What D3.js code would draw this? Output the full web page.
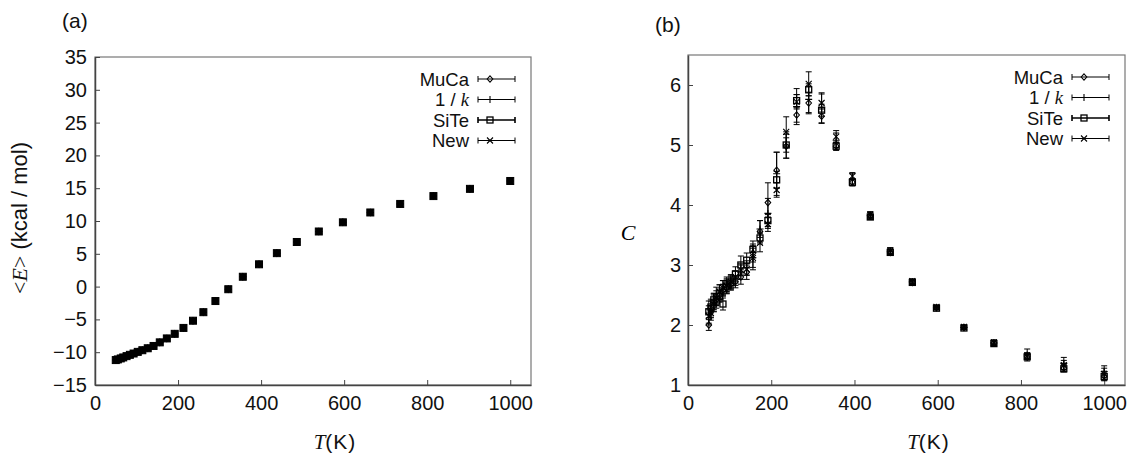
<!DOCTYPE html>
<html>
<head>
<meta charset="utf-8">
<script src="https://cdn.jsdelivr.net/npm/d3@7"></script>
<style>
  body { margin: 0; background: #fff; }
  svg { display: block; }
  .tick text { font-family: "Liberation Sans", Arial, sans-serif; font-size: 20px; fill: #111; }
  .sans { font-family: "Liberation Sans", Arial, sans-serif; fill: #111; }
  .serif { font-family: "Liberation Serif", "Times New Roman", serif; font-style: italic; }
</style>
</head>
<body>
<svg id="chart" width="1135" height="454"></svg>
<script>
// temperatures (K), shared by every series
var TEMPS = [50, 55, 62, 68, 76, 84, 93, 103, 114, 127, 141, 156, 173, 192, 213,
             236, 261, 290, 321, 356, 395, 438, 486, 539, 597, 663, 735, 815, 903, 1000];

// (a) <E> in kcal/mol -- the four methods sit on top of each other
var E_MUCA = [-11.2, -11.1, -10.95, -10.8, -10.6, -10.4, -10.2, -9.95, -9.7, -9.4, -9.05, -8.5, -7.9, -7.2, -6.3,
              -5.2, -3.9, -2.2, -0.4, 1.5, 3.4, 5.1, 6.8, 8.4, 9.8, 11.3, 12.6, 13.8, 14.9, 16.1];
var E_INVK = [-11.2, -11.1, -10.95, -10.8, -10.6, -10.4, -10.2, -9.95, -9.7, -9.4, -9.05, -8.5, -7.9, -7.2, -6.3,
              -5.2, -3.9, -2.2, -0.4, 1.5, 3.4, 5.1, 6.8, 8.4, 9.8, 11.3, 12.6, 13.8, 14.9, 16.1];
var E_SITE = [-11.2, -11.1, -10.95, -10.8, -10.6, -10.4, -10.2, -9.95, -9.7, -9.4, -9.05, -8.5, -7.9, -7.2, -6.3,
              -5.2, -3.9, -2.2, -0.4, 1.5, 3.4, 5.1, 6.8, 8.4, 9.8, 11.3, 12.6, 13.8, 14.9, 16.1];
var E_NEW  = [-11.2, -11.1, -10.95, -10.8, -10.6, -10.4, -10.2, -9.95, -9.7, -9.4, -9.05, -8.5, -7.9, -7.2, -6.3,
              -5.2, -3.9, -2.2, -0.4, 1.5, 3.4, 5.1, 6.8, 8.4, 9.8, 11.3, 12.6, 13.8, 14.9, 16.1];

// (b) specific heat C and its error bars
var C_MUCA     = [2.00, 2.22, 2.32, 2.42, 2.50, 2.58, 2.62, 2.68, 2.72, 2.80, 2.88, 3.20, 3.56, 4.04, 4.58,
                  4.98, 5.50, 5.70, 5.48, 4.98, 4.38, 3.82, 3.21, 2.71, 2.29, 1.96, 1.70, 1.47, 1.28, 1.15];
var C_MUCA_ERR = [0.09, 0.10, 0.10, 0.10, 0.10, 0.10, 0.10, 0.10, 0.10, 0.12, 0.12, 0.15, 0.18, 0.33, 0.30,
                  0.20, 0.12, 0.18, 0.12, 0.07, 0.06, 0.05, 0.04, 0.03, 0.03, 0.03, 0.04, 0.05, 0.06, 0.08];
var C_INVK     = [2.20, 2.28, 2.38, 2.48, 2.55, 2.62, 2.68, 2.72, 2.78, 2.88, 2.95, 3.12, 3.60, 3.86, 4.52,
                  5.00, 5.64, 5.76, 5.62, 5.08, 4.42, 3.82, 3.23, 2.72, 2.29, 1.96, 1.70, 1.50, 1.36, 1.22];
var C_INVK_ERR = [0.20, 0.15, 0.15, 0.15, 0.12, 0.12, 0.12, 0.12, 0.12, 0.12, 0.12, 0.20, 0.14, 0.25, 0.36,
                  0.22, 0.30, 0.22, 0.25, 0.12, 0.10, 0.05, 0.05, 0.04, 0.03, 0.03, 0.05, 0.10, 0.10, 0.10];
var C_SITE     = [2.22, 2.30, 2.42, 2.40, 2.48, 2.35, 2.65, 2.70, 2.85, 3.00, 3.08, 3.26, 3.45, 3.74, 4.42,
                  5.00, 5.74, 5.92, 5.58, 4.98, 4.38, 3.80, 3.21, 2.71, 2.28, 1.95, 1.69, 1.47, 1.27, 1.14];
var C_SITE_ERR = [0.10, 0.10, 0.10, 0.12, 0.10, 0.10, 0.10, 0.10, 0.12, 0.15, 0.12, 0.14, 0.10, 0.10, 0.14,
                  0.12, 0.10, 0.10, 0.10, 0.06, 0.05, 0.04, 0.04, 0.03, 0.03, 0.03, 0.03, 0.04, 0.05, 0.05];
var C_NEW      = [2.15, 2.20, 2.38, 2.45, 2.55, 2.62, 2.65, 2.72, 2.80, 2.92, 2.93, 3.12, 3.37, 3.68, 4.25,
                  5.22, 5.72, 6.02, 5.70, 5.14, 4.48, 3.84, 3.24, 2.73, 2.30, 1.97, 1.71, 1.49, 1.33, 1.18];
var C_NEW_ERR  = [0.12, 0.12, 0.12, 0.12, 0.12, 0.12, 0.12, 0.10, 0.10, 0.10, 0.10, 0.16, 0.15, 0.12, 0.12,
                  0.25, 0.12, 0.20, 0.15, 0.10, 0.06, 0.05, 0.05, 0.04, 0.03, 0.03, 0.04, 0.05, 0.08, 0.10];

var X_TICKS = [0, 200, 400, 600, 800, 1000];
var E_TICKS = [-15, -10, -5, 0, 5, 10, 15, 20, 25, 30, 35];
var C_TICKS = [1, 2, 3, 4, 5, 6];
var LEGEND = ['MuCa', '1/k', 'SiTe', 'New'];
var MARKERS = ['diamond', 'plus', 'square', 'cross'];

var svg = d3.select('#chart');

function marker(g, kind, cx, cy, filled){
    var m = g.append('g')
        .attr('transform', 'translate(' + cx + ',' + cy + ')')
        .attr('fill', 'none').attr('stroke', '#000').attr('stroke-width', 1.1);
    if (kind == 'diamond') {
        m.append('path').attr('d', 'M0,-3.2L2.8,0L0,3.2L-2.8,0Z');
    } else if (kind == 'plus') {
        m.append('path').attr('d', 'M-3.5,0H3.5M0,-3.5V3.5');
    } else if (kind == 'square') {
        var s = filled ? 7 : 6;
        m.append('rect').attr('x', -s / 2).attr('y', -s / 2).attr('width', s).attr('height', s)
            .attr('fill', filled ? '#000' : 'none').attr('stroke-width', filled ? 1 : 1.3);
    } else {
        m.append('path').attr('d', 'M-3,-3L3,3M-3,3L3,-3');
    }
}

function errorBar(g, x, y0, y1){
    g.append('path')
        .attr('d', 'M' + x + ',' + y0 + 'V' + y1 + 'M' + (x - 3) + ',' + y0 + 'H' + (x + 3) +
                   'M' + (x - 3) + ',' + y1 + 'H' + (x + 3))
        .attr('stroke', '#000').attr('stroke-width', 1).attr('fill', 'none');
}

function styleAxis(a){
    a.select('.domain').attr('stroke', '#444').attr('stroke-width', 1.5);
    a.selectAll('.tick line').attr('stroke', '#444');
    a.selectAll('.tick text').attr('font-size', null).attr('font-family', null);
}

function frame(x, y, yTicks, yPad){
    var xr = x.range(), yr = y.range();
    var g = svg.append('g');
    g.append('rect')
        .attr('x', xr[0]).attr('y', yr[1])
        .attr('width', xr[1] - xr[0]).attr('height', yr[0] - yr[1])
        .attr('fill', 'none').attr('stroke', '#777').attr('stroke-width', 1.2);

    g.append('g').attr('transform', 'translate(0,' + yr[0] + ')')
        .call(d3.axisBottom(x).tickValues(X_TICKS).tickFormat(d3.format('d'))
            .tickSizeInner(-5).tickSizeOuter(0).tickPadding(11))
        .call(styleAxis);

    g.append('g').attr('transform', 'translate(' + xr[0] + ',0)')
        .call(d3.axisLeft(y).tickValues(yTicks).tickFormat(d3.format('d'))
            .tickSizeInner(-5).tickSizeOuter(0).tickPadding(yPad))
        .call(styleAxis);

    // x title T(K)
    var t = svg.append('text').attr('class', 'sans')
        .attr('x', (xr[0] + xr[1]) / 2 + 22).attr('y', 449)
        .attr('text-anchor', 'middle').attr('font-size', 21);
    t.append('tspan').attr('class', 'serif').text('T');
    t.append('tspan').attr('letter-spacing', 1).text('(K)');
    return g;
}

function legend(x, y){
    var right = x.range()[1], top = y.range()[1];
    var g = svg.append('g');
    LEGEND.forEach(function(name, i){
        var cy = top + 22 + i * 20.5;
        var txt = g.append('text').attr('class', 'sans')
            .attr('x', right - 62).attr('y', cy + 6.5)
            .attr('text-anchor', 'end').attr('font-size', 18.5);
        if (name == '1/k') {
            txt.append('tspan').text('1 / ');
            txt.append('tspan').attr('class', 'serif').text('k');
        } else {
            txt.text(name);
        }
        var x0 = right - 53, x1 = right - 16;
        g.append('path')
            .attr('d', 'M' + x0 + ',' + cy + 'H' + x1 + 'M' + x0 + ',' + (cy - 3) + 'V' + (cy + 3) +
                       'M' + x1 + ',' + (cy - 3) + 'V' + (cy + 3))
            .attr('stroke', '#000').attr('stroke-width', i == 2 ? 1.6 : 1).attr('fill', 'none');
        marker(g, MARKERS[i], x0 + 12, cy, false);
    });
}

// ---- panel (a)
var xa = d3.scaleLinear().domain([0, 1050]).range([95, 531]);
var ya = d3.scaleLinear().domain([-15, 35]).range([385, 57]);
frame(xa, ya, E_TICKS, 8);
legend(xa, ya);

var ga = svg.append('g');
[E_MUCA, E_INVK, E_SITE, E_NEW].forEach(function(vals, k){
    TEMPS.forEach(function(t, i){
        marker(ga, MARKERS[k], xa(t), ya(vals[i]), true);
    });
});

svg.append('text').attr('class', 'sans').attr('x', 62).attr('y', 28).attr('font-size', 21).text('(a)');

var yl = svg.append('text').attr('class', 'sans').attr('font-size', 22)
    .attr('text-anchor', 'middle')
    .attr('transform', 'translate(27,' + 218 + ') rotate(-90)');
yl.append('tspan').attr('font-family', 'Liberation Serif').text('<');
yl.append('tspan').attr('class', 'serif').text('E');
yl.append('tspan').attr('font-family', 'Liberation Serif').text('>');
yl.append('tspan').text(' (kcal / mol)');

// ---- panel (b)
var xb = d3.scaleLinear().domain([0, 1050]).range([688, 1125]);
var yb = d3.scaleLinear().domain([1, 6.5]).range([385, 55]);
frame(xb, yb, C_TICKS, 7);
legend(xb, yb);

var gb = svg.append('g');
[[C_MUCA, C_MUCA_ERR], [C_INVK, C_INVK_ERR], [C_SITE, C_SITE_ERR], [C_NEW, C_NEW_ERR]].forEach(function(s, k){
    TEMPS.forEach(function(t, i){
        errorBar(gb, xb(t), yb(s[0][i] - s[1][i]), yb(s[0][i] + s[1][i]));
        marker(gb, MARKERS[k], xb(t), yb(s[0][i]), false);
    });
});

svg.append('text').attr('class', 'sans').attr('x', 655).attr('y', 32).attr('font-size', 21).text('(b)');
svg.append('text').attr('class', 'serif').attr('x', 628).attr('y', 240)
    .attr('text-anchor', 'middle').attr('font-size', 22).text('C');
</script>
</body>
</html>
